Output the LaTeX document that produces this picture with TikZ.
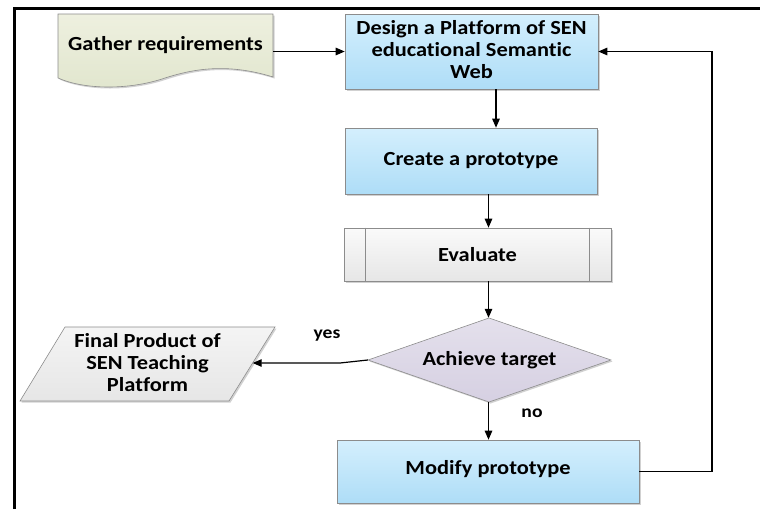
\documentclass[tikz,border=0pt]{standalone}
\usepackage{fontspec}
\setmainfont{Carlito}[FakeStretch=1.12, Ligatures=NoCommon]
\usetikzlibrary{arrows.meta,shadows}
\definecolor{bluetop}{HTML}{D4EFFD}
\definecolor{bluebot}{HTML}{AEDDF7}
\definecolor{greentop}{HTML}{EEF0DF}
\definecolor{greenbot}{HTML}{E1E6CE}
\definecolor{graytop}{HTML}{FAFAFA}
\definecolor{graybot}{HTML}{E6E6E6}
\definecolor{lavtop}{HTML}{E4E0EC}
\definecolor{lavbot}{HTML}{D6D0E2}
\definecolor{edge}{HTML}{8C8C8C}
\begin{document}
\begin{tikzpicture}[x=1pt,y=-1pt,
  txt/.style={font=\bfseries\fontsize{20}{22}\selectfont, align=center, inner sep=0pt},
  lbl/.style={font=\bfseries\fontsize{17.5}{20}\selectfont, inner sep=0pt},
  shad/.style={drop shadow={shadow xshift=1.5pt,shadow yshift=-1.5pt,fill=black,opacity=0.18}},
  box/.style={txt, draw=edge, line width=0.6pt, shad},
  bluebox/.style={box, top color=bluetop, bottom color=bluebot},
  conn/.style={line width=1.2pt, -{Triangle[length=9pt,width=7.5pt]}},
  shapeline/.style={draw=edge, line width=0.6pt}
]
\useasboundingbox (0,0) rectangle (760,509);
% frame
\draw[line width=3.5pt] (14.5,509) -- (14.5,8.5) -- (760,8.5);

% Gather requirements (document shape)
\fill[black,opacity=0.18] (59.5,15.5) -- (274.5,15.5) -- (274.5,78.5)
  .. controls (226.5,63.5) and (191.5,71.5) .. (166.5,79.5)
  .. controls (131.5,91.5) and (86.5,91.5) .. (59.5,79.5) -- cycle;
\path[shapeline, top color=greentop, bottom color=greenbot] (58,14) -- (273,14) -- (273,77)
  .. controls (225,62) and (190,70) .. (165,78)
  .. controls (130,90) and (85,90) .. (58,78) -- cycle;
\node[txt, minimum width=215pt] (gather) at (165.5,45) {Gather requirements};

% Design
\node[bluebox, minimum width=253pt, minimum height=75pt] (design) at (471.5,51.5) {};
\node[txt] (designtxt) at ([yshift=2pt]design.center)
  {Design a Platform of SEN\\educational Semantic\\Web};
% Create
\node[bluebox, minimum width=252pt, minimum height=66pt] (create) at (471,161) {Create a prototype};
% Evaluate
\node[box, top color=graytop, bottom color=graybot, minimum width=267pt, minimum height=53pt] (eval) at (477.5,254.5) {Evaluate};
\draw[shapeline] ([xshift=22pt]eval.north west) -- ([xshift=22pt]eval.south west);
\draw[shapeline] ([xshift=-22pt]eval.north east) -- ([xshift=-22pt]eval.south east);
% Diamond
\fill[black,opacity=0.18] (490.5,319.5) -- (612.5,361.5) -- (490.5,403.5) -- (369.5,361.5) -- cycle;
\path[shapeline, top color=lavtop, bottom color=lavbot] (489,318) -- (611,360) -- (489,402) -- (368,360) -- cycle;
\node[txt, minimum width=243pt, minimum height=84pt] (target) at (489.5,360) {Achieve target};
% Modify
\node[bluebox, minimum width=302pt, minimum height=63pt] (modify) at (488,471.5) {};
\node[txt] (modifytxt) at ([yshift=2pt]modify.center) {Modify prototype};
% Final product (parallelogram)
\fill[black,opacity=0.18] (66.5,328.5) -- (276.5,328.5) -- (230.5,402.5) -- (21.5,402.5) -- cycle;
\path[shapeline, top color=graytop!70!graybot, bottom color=graybot] (65,327) -- (275,327) -- (229,401) -- (20,401) -- cycle;
\node[txt, minimum width=210pt] (final) at (147.5,363) {Final Product of\\SEN Teaching\\Platform};

% connectors
\coordinate (fb) at (712,0);
\coordinate (kink) at (340,363);
\coordinate (axis) at (488.5,0);
\draw[conn] (gather.east |- design.west) -- (design.west);
\draw[conn] ([xshift=24.5pt]design.south) -- ([xshift=24.5pt]design.south |- create.north);
\draw[conn] (create.south -| axis) -- (eval.north -| axis);
\draw[conn] (eval.south -| axis) -- (target.north -| axis);
\draw[conn] (target.south -| axis) -- (modify.north -| axis);
\draw[conn] (target.west) -- (kink) -- (kink -| final.east);
\draw[conn] (modify.east) -- (modify.east -| fb) -- (design.east -| fb) -- (design.east);

% labels
\node[lbl] (yes) at (327,336) {yes};
\node[lbl] (no) at (532,413) {no};
\end{tikzpicture}
\end{document}
